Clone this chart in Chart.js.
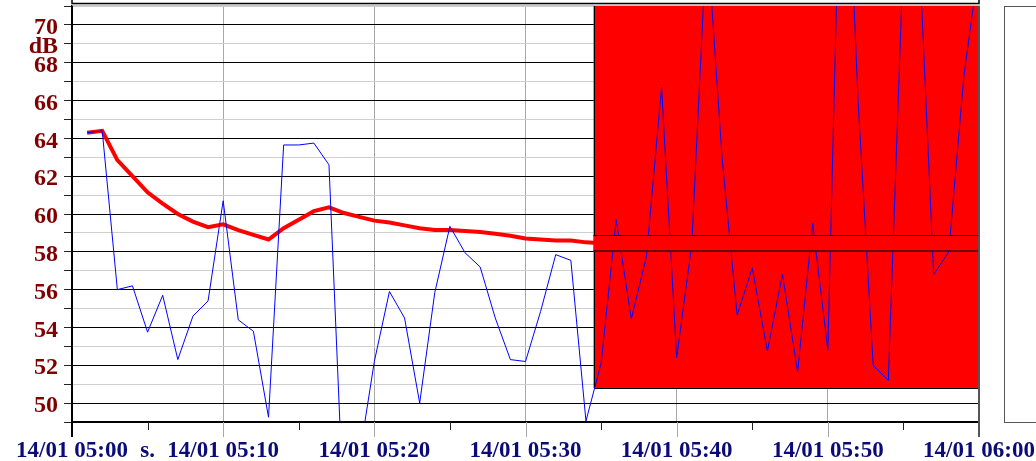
<!DOCTYPE html>
<html>
<head>
<meta charset="utf-8">
<script src="https://cdn.jsdelivr.net/npm/chart.js@4"></script>
<style>
  body { margin: 0; background: #fff; }
  canvas { display: block; }
</style>
</head>
<body>
<canvas id="chart" width="1036" height="461"></canvas>
<script>
// minutes after 14/01 05:00
const timeLabels = ['05:01','05:02','05:03','05:04','05:05','05:06','05:07','05:08','05:09','05:10',
  '05:11','05:12','05:13','05:14','05:15','05:16','05:17','05:18','05:19','05:20',
  '05:21','05:22','05:23','05:24','05:25','05:26','05:27','05:28','05:29','05:30',
  '05:31','05:32','05:33','05:34','05:35','05:36','05:37','05:38','05:39','05:40',
  '05:41','05:42','05:43','05:44','05:45','05:46','05:47','05:48','05:49','05:50',
  '05:51','05:52','05:53','05:54','05:55','05:56','05:57','05:58','05:59','06:00'];

// niveau instantané (bleu)
const levelValues = [64.3, 64.4, 56.0, 56.2, 53.75, 55.7, 52.3, 54.6, 55.4, 60.7,
  54.4, 53.8, 49.25, 63.65, 63.65, 63.75, 62.6, 43.7, 47.1, 52.2,
  55.9, 54.5, 50.0, 55.85, 59.35, 57.95, 57.2, 54.5, 52.3, 52.2,
  54.85, 57.85, 57.55, 49.05, 52.1, 59.7, 54.45, 57.75, 66.7, 52.4,
  58.4, 74.9, 63.0, 54.65, 57.15, 52.75, 56.8, 51.65, 59.5, 52.8,
  84.9, 66.0, 52.0, 51.2, 73.8, 74.8, 56.8, 58.0, 67.3, 73.2];

// moyenne glissante (rouge)
const averageValues = [64.3, 64.4, 62.85, 62.0, 61.15, 60.55, 60.0, 59.6, 59.3, 59.45,
  59.15, 58.9, 58.65, 59.25, 59.7, 60.15, 60.35, 60.05, 59.85, 59.65,
  59.55, 59.4, 59.25, 59.15, 59.15, 59.1, 59.05, 58.95, 58.85, 58.7,
  58.65, 58.6, 58.6, 58.5, 58.45, 58.45, 58.45, 58.45, 58.45, 58.45,
  58.45, 58.45, 58.45, 58.45, 58.45, 58.45, 58.45, 58.45, 58.45, 58.45,
  58.45, 58.45, 58.45, 58.45, 58.45, 58.45, 58.45, 58.45, 58.45, 58.45];

// zone d'alarme
const alarmStart = 34.5;   // minutes
const alarmFloor = 50.8;   // dB
const bandLow = 58.06;
const bandHigh = 58.88;

const xTickLabels = ['14/01 05:00', 's.', '14/01 05:10', '', '14/01 05:20', '', '14/01 05:30', '',
  '14/01 05:40', '', '14/01 05:50', '', '14/01 06:00'];
const yTickLabels = { 50: '50', 52: '52', 54: '54', 56: '56', 58: '58', 60: '60',
  62: '62', 64: '64', 66: '66', 68: '68', 69: 'dB', 70: '70' };

const toMinutes = t => {
  const [h, m] = t.split(':').map(Number);
  return (h - 5) * 60 + m;
};
const points = vals => vals.map((v, i) => ({ x: toMinutes(timeLabels[i]), y: v }));

const noPad = s => { s.paddingTop = 0; s.paddingBottom = 0; s.paddingLeft = 0; s.paddingRight = 0; };

const decor = {
  id: 'decor',
  beforeDatasetsDraw(chart) {
    const { ctx, chartArea: a, scales: { x, y } } = chart;
    const x0 = x.getPixelForValue(alarmStart);
    const yb = y.getPixelForValue(alarmFloor);
    ctx.save();
    ctx.fillStyle = '#ff0000';
    ctx.fillRect(x0, a.top, a.right - x0, yb - a.top);
    ctx.strokeStyle = '#000';
    ctx.lineWidth = 1;
    ctx.beginPath();
    ctx.moveTo(Math.round(x0) + 0.5, a.top);
    ctx.lineTo(Math.round(x0) + 0.5, Math.round(yb) + 0.5);
    ctx.lineTo(a.right, Math.round(yb) + 0.5);
    ctx.stroke();
    ctx.restore();
  },
  afterDatasetsDraw(chart) {
    const { ctx, chartArea: a, scales: { x, y } } = chart;
    const x0 = x.getPixelForValue(alarmStart);
    const yh = Math.round(y.getPixelForValue(bandHigh));
    const yl = Math.round(y.getPixelForValue(bandLow));
    ctx.save();
    ctx.fillStyle = '#ff0000';
    ctx.fillRect(x0, yh, a.right - x0, yl - yh);
    ctx.strokeStyle = '#000';
    ctx.lineWidth = 1;
    ctx.beginPath();
    ctx.moveTo(x0, yh + 0.5);
    ctx.lineTo(a.right, yh + 0.5);
    ctx.stroke();
    ctx.strokeStyle = '#700000';
    ctx.lineWidth = 2;
    ctx.beginPath();
    ctx.moveTo(x0, yl);
    ctx.lineTo(a.right, yl);
    ctx.stroke();

    // ticks under the time axis
    x.ticks.forEach(t => {
      const px = Math.round(x.getPixelForValue(t.value)) + 0.5;
      const major = t.value % 10 === 0;
      ctx.strokeStyle = major ? '#a8a8a8' : '#222';
      ctx.lineWidth = 1;
      ctx.beginPath();
      ctx.moveTo(px, a.bottom);
      ctx.lineTo(px, a.bottom + (major ? 15 : 8));
      ctx.stroke();
    });
    ctx.lineWidth = 2;
    ctx.strokeStyle = '#000';
    ctx.beginPath();
    ctx.moveTo(a.left, a.top);
    ctx.lineTo(a.left, a.bottom + 15);
    ctx.stroke();
    ctx.strokeStyle = '#555';
    ctx.beginPath();
    ctx.moveTo(a.right, a.top);
    ctx.lineTo(a.right, a.bottom + 15);
    ctx.stroke();

    // frame of the box above and the empty box at right
    ctx.strokeStyle = '#000';
    ctx.lineWidth = 1.5;
    ctx.strokeRect(a.left, -10, a.right - a.left, 13.5);
    ctx.strokeStyle = '#b0b0b0';
    ctx.lineWidth = 1.5;
    ctx.beginPath();
    ctx.moveTo(a.left, 5);
    ctx.lineTo(a.right + 1, 5);
    ctx.stroke();
    ctx.strokeStyle = '#555';
    ctx.lineWidth = 1;
    ctx.strokeRect(1004.5, 6.5, 60, 416);
    ctx.restore();
  }
};

new Chart(document.getElementById('chart'), {
  type: 'line',
  data: {
    datasets: [
      {
        label: 'Niveau',
        data: points(levelValues),
        borderColor: '#0000ff',
        borderWidth: 1,
        pointRadius: 0,
        tension: 0
      },
      {
        label: 'Moyenne',
        data: points(averageValues),
        borderColor: '#ff0000',
        borderWidth: 4,
        pointRadius: 0,
        tension: 0,
        order: 1
      }
    ]
  },
  options: {
    responsive: false,
    animation: false,
    layout: { padding: { top: 6, right: 57, left: 0, bottom: 0 } },
    plugins: { legend: { display: false }, tooltip: { enabled: false } },
    scales: {
      x: {
        type: 'linear',
        min: 0,
        max: 60,
        afterFit: s => { s.height = 39; noPad(s); },
        afterBuildTicks: s => { s.ticks = xTickLabels.map((_, i) => ({ value: i * 5 })); },
        grid: {
          drawTicks: false,
          color: c => (c.tick && c.tick.value % 10 === 0) ? '#a8a8a8' : 'rgba(0,0,0,0)',
          lineWidth: 1
        },
        border: { color: '#000', width: 2 },
        ticks: {
          autoSkip: false,
          maxRotation: 0,
          padding: 15,
          color: '#0a0a78',
          font: { family: '"Liberation Serif", serif', size: 23, weight: 'bold' },
          callback: (v, i) => xTickLabels[i]
        }
      },
      y: {
        min: 49,
        max: 71,
        afterFit: s => { s.width = 72; noPad(s); },
        afterBuildTicks: s => {
          const ticks = [];
          for (let v = 49; v <= 71; v++) ticks.push({ value: v });
          s.ticks = ticks;
        },
        grid: {
          color: c => c.tick.value % 2 === 0 ? '#000' : '#cfcfcf',
          tickColor: '#222',
          tickLength: 8,
          lineWidth: 1
        },
        border: { color: '#000', width: 2 },
        ticks: {
          autoSkip: false,
          padding: 6,
          labelOffset: 3,
          color: '#800000',
          font: { family: '"Liberation Serif", serif', size: 24, weight: 'bold' },
          callback: v => yTickLabels[v] || ''
        }
      }
    }
  },
  plugins: [decor]
});
</script>
</body>
</html>
